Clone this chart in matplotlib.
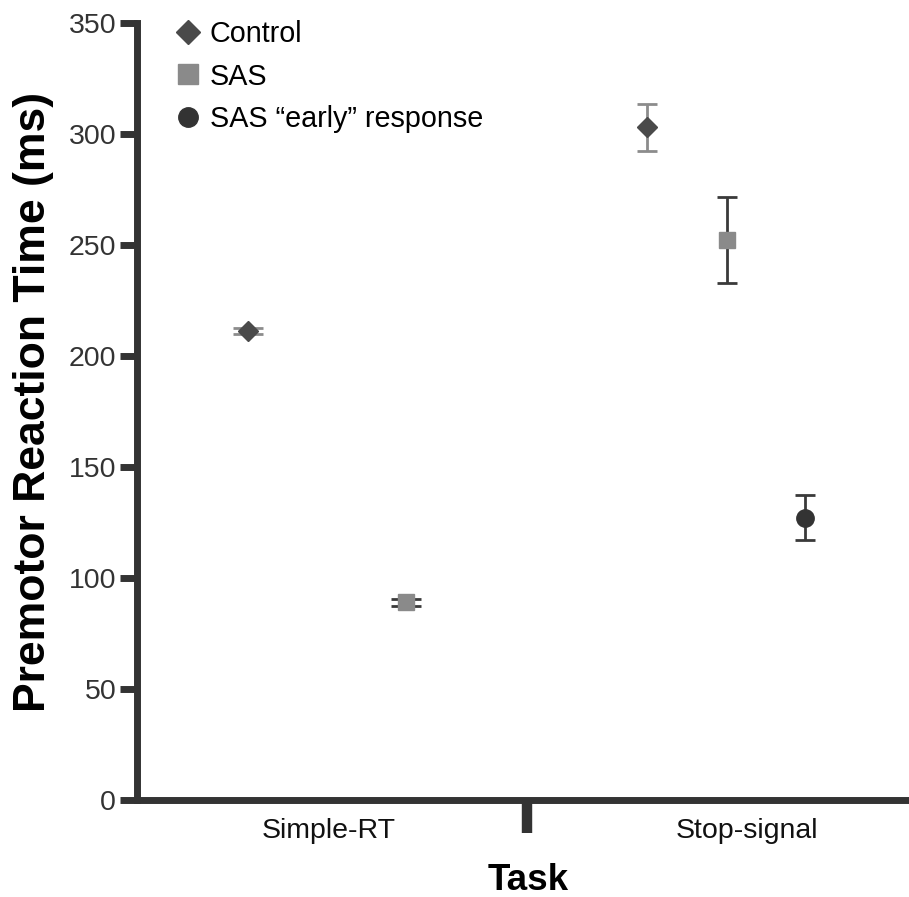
import matplotlib
matplotlib.use("Agg")
import matplotlib.pyplot as plt
from matplotlib.lines import Line2D

plt.rcParams['font.family'] = ['Liberation Sans', 'DejaVu Sans']

tasks = ["Simple-RT", "Stop-signal"]
series = ["Control", "SAS", "SAS \u201cearly\u201d response"]
# per-series data: task index, mean, error
control_task = [0, 1]
control_mean = [211.4, 303.0]
control_err = [1.4, 10.7]
sas_task = [0, 1]
sas_mean = [89.0, 252.2]
sas_err = [1.5, 19.5]
early_task = [1]
early_mean = [127.2]
early_err = [10.3]
y_ticks = [0, 50, 100, 150, 200, 250, 300, 350]

# styles / positions
offsets = {"Control": [-0.192, -0.240], "SAS": [0.185, -0.049], "early": [0.137]}
capsizes = [11, 7.5]  # per task

W, H = 909, 897
fig = plt.figure(figsize=(W / 100, H / 100), dpi=100)
ax = fig.add_axes([137 / W, (H - 800) / H, (W - 137) / W, (800 - 23) / H])


def draw(tasks_idx, means, errs, offs, marker, ms, mcolor, ecolor):
    for t, m, e, o in zip(tasks_idx, means, errs, offs):
        ax.errorbar([t + o], [m], yerr=[e], fmt='none', ecolor=ecolor,
                    elinewidth=2.0, capsize=capsizes[t], capthick=2.0, zorder=2)
        ax.plot([t + o], [m], linestyle='none', marker=marker, markersize=ms,
                color=mcolor, zorder=3)


draw(control_task, control_mean, control_err, offsets["Control"], 'D', 10, '#4a4a4a', '#8c8c8c')
draw(sas_task, sas_mean, sas_err, offsets["SAS"], 's', 11.5, '#8a8a8a', '#3a3a3a')
draw(early_task, early_mean, early_err, offsets["early"], 'o', 12.5, '#333333', '#3a3a3a')

ax.set_ylim(0, 350)
ax.set_xlim(-0.457, 1.386)
ax.set_yticks(y_ticks)
ax.set_yticklabels([str(v) for v in y_ticks], fontsize=20.5, color='#333333')
ax.tick_params(axis='y', length=12, width=5, color='#333333', pad=3)

ax.set_xticks([0, 1])
ax.set_xticklabels(tasks, fontsize=20.5, color='#111111')
ax.tick_params(axis='x', length=0, pad=13)
# separator tick between tasks
ax.plot([0.474, 0.474], [0, -15], color='#333333', lw=7.5, clip_on=False,
        solid_capstyle='butt')

for s in ['top', 'right']:
    ax.spines[s].set_visible(False)
for s in ['left', 'bottom']:
    ax.spines[s].set_linewidth(5)
    ax.spines[s].set_color('#333333')

fig.text(34 / W, 1 - 402 / H, "Premotor Reaction Time (ms)", rotation=90,
         fontsize=32, fontweight='bold', ha='center', va='center', color='#000000')
fig.text(528 / W, 1 - 890 / H, "Task", fontsize=26.5, fontweight='bold',
         ha='center', va='baseline', color='#000000')

handles = [
    Line2D([], [], linestyle='none', marker='D', markersize=12, color='#4a4a4a'),
    Line2D([], [], linestyle='none', marker='s', markersize=14, color='#8a8a8a'),
    Line2D([], [], linestyle='none', marker='o', markersize=14, color='#333333'),
]
ax.legend(handles, series, loc='upper left', bbox_to_anchor=(0.040, 1.0040),
          frameon=False, fontsize=20.7, handletextpad=0.07, labelspacing=0.51,
          borderaxespad=0, borderpad=0, handlelength=1.39)

fig.savefig("out.png", dpi=100)
